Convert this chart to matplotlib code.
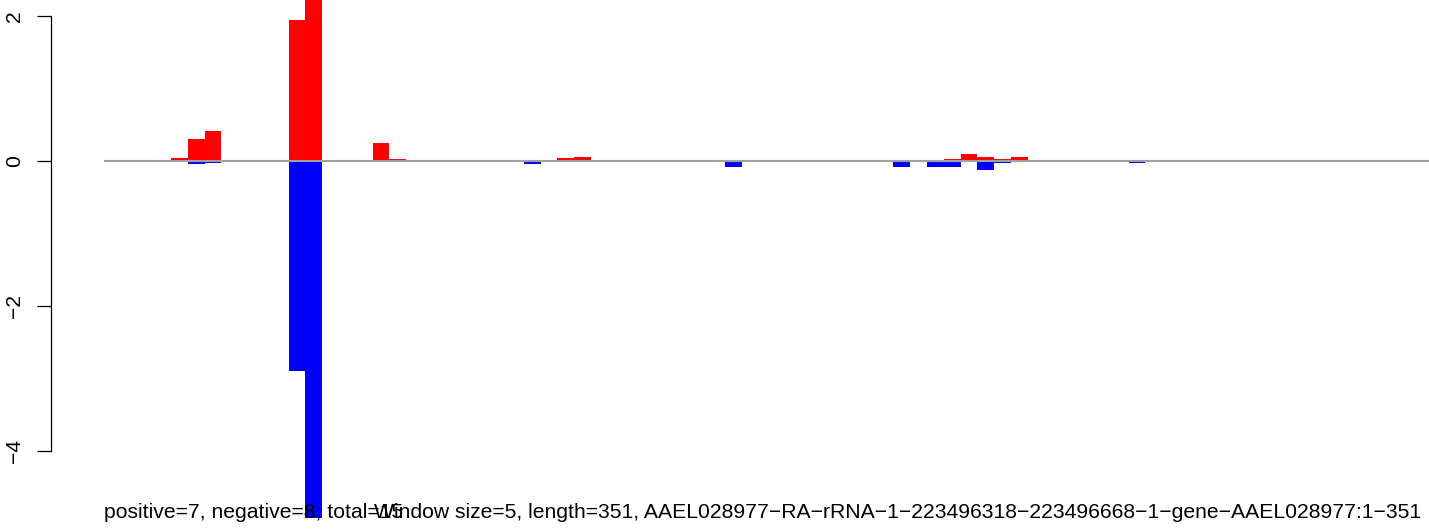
import matplotlib

matplotlib.use("Agg")
import matplotlib.pyplot as plt
import numpy as np

plt.rcParams["font.family"] = ["Liberation Sans", "DejaVu Sans"]

# window index (0-based, window size 5) and scores
pos_idx = [4, 5, 6, 11, 12, 16, 17, 27, 28, 38, 50, 51, 52, 53, 54]
pos_val = [0.04, 0.30, 0.41, 1.94, 2.45, 0.25, 0.02, 0.04, 0.055, 0.015,
           0.02, 0.10, 0.05, 0.02, 0.05]
neg_idx = [5, 6, 11, 12, 25, 37, 47, 49, 50, 52, 53, 61]
neg_val = [-0.05, -0.035, -2.90, -4.93, -0.04, -0.09, -0.08, -0.08, -0.08,
           -0.12, -0.035, -0.035]
yticks = [-4, -2, 0, 2]

info_left = "positive=7, negative=8, total=15"
info_right = ("Window size=5, length=351, "
              "AAEL028977\u2212RA\u2212rRNA\u22121\u2212223496318\u2212223496668"
              "\u22121\u2212gene\u2212AAEL028977:1\u2212351")

W, H = 1429, 529
fig = plt.figure(figsize=(W / 100, H / 100), dpi=100)
ax = fig.add_axes([51 / W, 0, 1 - 51 / W, 1])

ax.bar(pos_idx, pos_val, width=1.0, align="edge", color="#ff0000", linewidth=0, zorder=2)
ax.bar(neg_idx, neg_val, width=1.0, align="edge", color="#0000ff", linewidth=0, zorder=2)
ax.hlines(0, 0, 200, color="#a0a0a0", linewidth=1.5, zorder=3)

# pixel mapping: x = 103.8 + 16.8*i ; zero line at y=160.8, 72.5 px per unit
ax.set_xlim((51 - 103.8) / 16.8, (W - 103.8) / 16.8)
ax.set_ylim(-(H - 160.8) / 72.5, 160.8 / 72.5)

for s in ("top", "right", "bottom"):
    ax.spines[s].set_visible(False)
ax.spines["left"].set_bounds(-4, 2)
ax.spines["left"].set_linewidth(0.9)
ax.set_xticks([])
ax.set_yticks(yticks)
ax.set_yticklabels([str(t).replace("-", "\u2212") for t in yticks],
                   rotation=90, va="center", fontsize=15.25)
ax.tick_params(axis="y", length=10, width=0.9, pad=9.5)
ax.patch.set_alpha(0)

fig.text(104 / W, (H - 518.5) / H, info_left, fontsize=15.25, va="baseline", ha="left")
fig.text(1421 / W, (H - 518.5) / H, info_right, fontsize=15.25, va="baseline", ha="right")

fig.savefig("out.png", dpi=100)
